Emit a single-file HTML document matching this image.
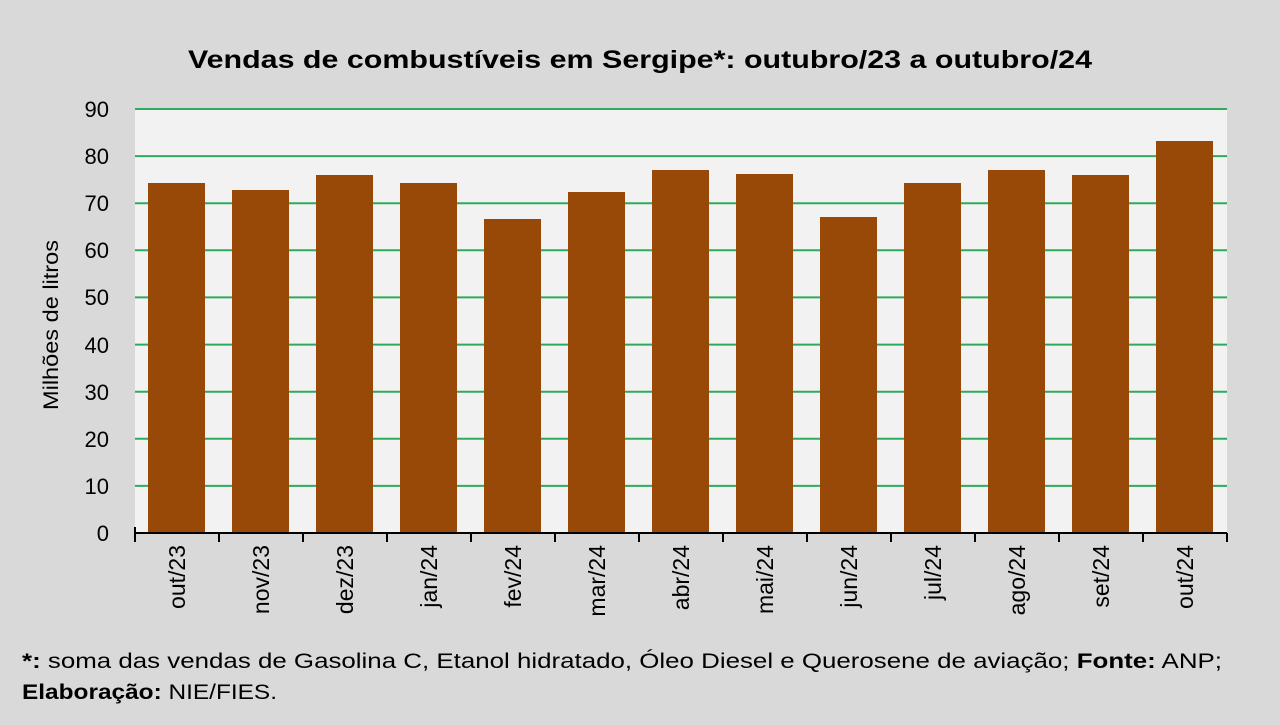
<!DOCTYPE html>
<html><head><meta charset="utf-8"><style>
body{margin:0;width:1280px;height:720px;background:#d9d9d9;overflow:hidden;font-family:"Liberation Sans",sans-serif}
</style></head><body>
<svg width="1280" height="720" xmlns="http://www.w3.org/2000/svg" font-family="Liberation Sans, sans-serif">
<rect width="1280" height="720" fill="#d9d9d9"/>
<rect x="135" y="109" width="1092" height="424" fill="#f2f2f2"/>
<g stroke="#2eaa5c" stroke-width="2">
<line x1="135" x2="1227" y1="109" y2="109"/><line x1="135" x2="1227" y1="156.1" y2="156.1"/>
<line x1="135" x2="1227" y1="203.2" y2="203.2"/><line x1="135" x2="1227" y1="250.3" y2="250.3"/>
<line x1="135" x2="1227" y1="297.4" y2="297.4"/><line x1="135" x2="1227" y1="344.6" y2="344.6"/>
<line x1="135" x2="1227" y1="391.7" y2="391.7"/><line x1="135" x2="1227" y1="438.8" y2="438.8"/>
<line x1="135" x2="1227" y1="485.9" y2="485.9"/>
</g>
<g fill="#984807">
<rect x="148" y="183" width="57" height="350"/>
<rect x="232" y="190" width="57" height="343"/>
<rect x="316" y="175" width="57" height="358"/>
<rect x="400" y="183" width="57" height="350"/>
<rect x="484" y="219" width="57" height="314"/>
<rect x="568" y="192" width="57" height="341"/>
<rect x="652" y="170" width="57" height="363"/>
<rect x="736" y="174" width="57" height="359"/>
<rect x="820" y="217" width="57" height="316"/>
<rect x="904" y="183" width="57" height="350"/>
<rect x="988" y="170" width="57" height="363"/>
<rect x="1072" y="175" width="57" height="358"/>
<rect x="1156" y="141" width="57" height="392"/>
</g>
<g stroke="#000" stroke-width="2">
<line x1="135" x2="1227" y1="533" y2="533"/>
<line x1="135" x2="135" y1="527" y2="542"/><line x1="219" x2="219" y1="533" y2="542"/>
<line x1="303" x2="303" y1="533" y2="542"/><line x1="387" x2="387" y1="533" y2="542"/>
<line x1="471" x2="471" y1="533" y2="542"/><line x1="555" x2="555" y1="533" y2="542"/>
<line x1="639" x2="639" y1="533" y2="542"/><line x1="723" x2="723" y1="533" y2="542"/>
<line x1="807" x2="807" y1="533" y2="542"/><line x1="891" x2="891" y1="533" y2="542"/>
<line x1="975" x2="975" y1="533" y2="542"/><line x1="1059" x2="1059" y1="533" y2="542"/>
<line x1="1143" x2="1143" y1="533" y2="542"/><line x1="1227" x2="1227" y1="533" y2="542"/>
</g>
<g font-size="22" fill="#000" text-anchor="end">
<text x="109" y="117">90</text><text x="109" y="164">80</text><text x="109" y="211">70</text>
<text x="109" y="258">60</text><text x="109" y="305">50</text><text x="109" y="353">40</text>
<text x="109" y="400">30</text><text x="109" y="447">20</text><text x="109" y="494">10</text>
<text x="109" y="541">0</text>
</g>
<g font-size="23" fill="#000" text-anchor="end">
<text transform="translate(185,545) rotate(-90)">out/23</text>
<text transform="translate(269,545) rotate(-90)">nov/23</text>
<text transform="translate(353,545) rotate(-90)">dez/23</text>
<text transform="translate(437,545) rotate(-90)">jan/24</text>
<text transform="translate(521,545) rotate(-90)">fev/24</text>
<text transform="translate(605,545) rotate(-90)">mar/24</text>
<text transform="translate(689,545) rotate(-90)">abr/24</text>
<text transform="translate(773,545) rotate(-90)">mai/24</text>
<text transform="translate(857,545) rotate(-90)">jun/24</text>
<text transform="translate(941,545) rotate(-90)">jul/24</text>
<text transform="translate(1025,545) rotate(-90)">ago/24</text>
<text transform="translate(1109,545) rotate(-90)">set/24</text>
<text transform="translate(1193,545) rotate(-90)">out/24</text>
</g>
<text transform="translate(58,325) rotate(-90)" font-size="21" text-anchor="middle" textLength="170" lengthAdjust="spacingAndGlyphs">Milhões de litros</text>
<text x="188" y="68" font-size="25" font-weight="bold" textLength="904" lengthAdjust="spacingAndGlyphs">Vendas de combustíveis em Sergipe*: outubro/23 a outubro/24</text>
<text x="22" y="668" font-size="21" textLength="1200" lengthAdjust="spacingAndGlyphs"><tspan font-weight="bold">*:</tspan> soma das vendas de Gasolina C, Etanol hidratado, Óleo Diesel e Querosene de aviação; <tspan font-weight="bold">Fonte:</tspan> ANP;</text>
<text x="22" y="699" font-size="21" textLength="255" lengthAdjust="spacingAndGlyphs"><tspan font-weight="bold">Elaboração:</tspan> NIE/FIES.</text>
</svg>
</body></html>
